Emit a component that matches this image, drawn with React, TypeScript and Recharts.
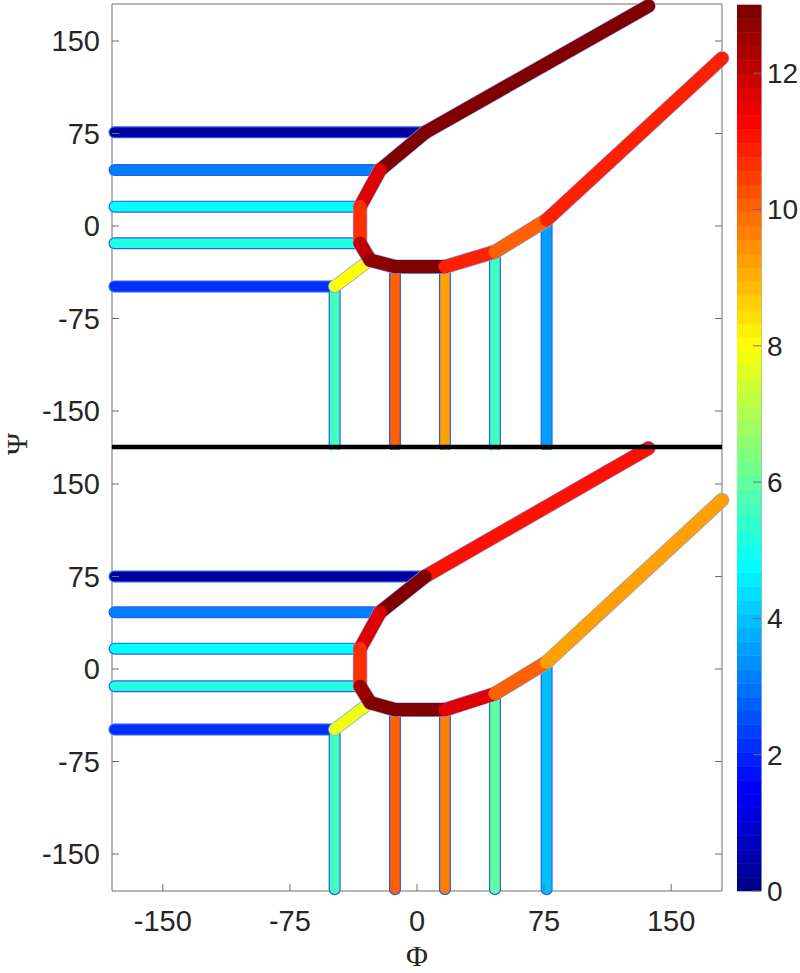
import React from 'react';
import { LineChart, Line, BarChart, Bar, XAxis, YAxis, ReferenceLine, ReferenceArea } from 'recharts';

// ---------- axes / colour scale ----------
const PHI_TICKS = [-150, -75, 0, 75, 150];
const PSI_TICKS = [-150, -75, 0, 75, 150];
const CBAR_TICKS = [0, 2, 4, 6, 8, 10, 12];
const CBAR_MAX = 13;
const CBAR_LEVELS = 64;
const PHI_START = -178.5;
const PSI_BOTTOM = -178.5;

// ---------- top panel ----------
const topCurvePhi = [136.6, 5, -21.8, -33.6, -33.6, -27.7, -13, 16.5, 46, 76.5, 180];
const topCurvePsi = [178.4, 76, 45.4, 15.7, -14, -27.6, -33, -33, -20.9, 4.9, 136];
const topCurveVal = [12.9, 12.9, 11.68, 10.66, 12.08, 12.7, 12.9, 10.87, 10.05, 10.87];
const topRowPsi = [76, 45.4, 15.7, -14, -49];
const topRowEnd = [5, -21.8, -33.6, -33.6, -48.6];
const topRowVal = [0.3, 3.15, 4.77, 5.18, 2.13];
const topColPhi = [-48.6, -13, 16.5, 46, 76.5];
const topColTop = [-49, -33, -33, -20.9, 4.9];
const topColVal = [5.59, 10.05, 9.24, 5.59, 3.55];
const topLinkPhi = [-48.6, -27.7];
const topLinkPsi = [-49, -27.6];
const topLinkVal = 8.0;

// ---------- bottom panel ----------
const botCurvePhi = [136.6, 4.7, -21.8, -33.6, -33.6, -27.7, -13, 16.5, 46, 76.5, 180];
const botCurvePsi = [179, 75, 46, 16.5, -14, -27.2, -33, -33, -20, 5.5, 137];
const botCurveVal = [11.07, 12.9, 11.68, 10.66, 12.49, 12.9, 12.9, 11.68, 10.05, 9.24];
const botRowPsi = [75, 46, 16.5, -14, -49];
const botRowEnd = [4.7, -21.8, -33.6, -33.6, -48.6];
const botRowVal = [0.3, 3.15, 4.77, 5.18, 2.13];
const botColPhi = [-48.6, -13, 16.5, 46, 76.5];
const botColTop = [-49, -33, -33, -20, 5.5];
const botColVal = [5.59, 10.05, 9.65, 5.99, 3.96];
const botLinkPhi = [-48.6, -27.7];
const botLinkPsi = [-49, -27.2];
const botLinkVal = 7.82;

// ---------- layout ----------
const W = 800;
const PLOT_LEFT = 112;
const PLOT_RIGHT_MARGIN = 78;
const PLOT_W = W - PLOT_LEFT - PLOT_RIGHT_MARGIN;
const AX = '#6e6e6e';
const TXT = '#262626';
const SANS = '"Liberation Sans", Arial, Helvetica, sans-serif';
const SERIF = '"Liberation Serif", "Times New Roman", serif';
const FS = 29;

function jetRow(i: number): string {
  let r = 0, g = 0, b = 0;
  if (i <= 8) b = 0.5 + i / 16;
  else if (i <= 24) { b = 1; g = (i - 8) / 16; }
  else if (i <= 40) { g = 1; r = (i - 24) / 16; b = 1 - (i - 24) / 16; }
  else if (i <= 56) { r = 1; g = 1 - (i - 40) / 16; }
  else r = 1 - (i - 56) / 16;
  const h = (c: number) => Math.round(Math.max(0, Math.min(1, c)) * 255).toString(16).padStart(2, '0');
  return '#' + h(r) + h(g) + h(b);
}
function colorOf(v: number): string {
  const i = Math.min(CBAR_LEVELS, Math.max(1, Math.floor((v / CBAR_MAX) * CBAR_LEVELS) + 1));
  return jetRow(i);
}

type Pt = { x: number; y: number };
type Seg = { key: string; pts: Pt[]; v: number };

function buildPanel(
  cPhi: number[], cPsi: number[], cVal: number[],
  rPsi: number[], rEnd: number[], rVal: number[],
  colPhi: number[], colTop: number[], colVal: number[],
  lPhi: number[], lPsi: number[], lVal: number
) {
  const curve: Seg[] = cVal.map((v, i) => ({
    key: 'c' + i,
    pts: [{ x: cPhi[i], y: cPsi[i] }, { x: cPhi[i + 1], y: cPsi[i + 1] }],
    v,
  }));
  const rungs: Seg[] = [];
  rPsi.forEach((p, i) => rungs.push({ key: 'r' + i, pts: [{ x: PHI_START, y: p }, { x: rEnd[i], y: p }], v: rVal[i] }));
  colPhi.forEach((p, i) => rungs.push({ key: 'v' + i, pts: [{ x: p, y: colTop[i] }, { x: p, y: PSI_BOTTOM }], v: colVal[i] }));
  const link: Seg = { key: 'l', pts: [{ x: lPhi[0], y: lPsi[0] }, { x: lPhi[1], y: lPsi[1] }], v: lVal };
  return { curve, rungs, link };
}

const topPanel = buildPanel(topCurvePhi, topCurvePsi, topCurveVal, topRowPsi, topRowEnd, topRowVal,
  topColPhi, topColTop, topColVal, topLinkPhi, topLinkPsi, topLinkVal);
const botPanel = buildPanel(botCurvePhi, botCurvePsi, botCurveVal, botRowPsi, botRowEnd, botRowVal,
  botColPhi, botColTop, botColVal, botLinkPhi, botLinkPsi, botLinkVal);

const cbarKeys = Array.from({ length: CBAR_LEVELS }, (_, i) => 'b' + i);
const cbarRow: Record<string, any> = { name: 'cbar' };
cbarKeys.forEach((k) => { cbarRow[k] = CBAR_MAX / CBAR_LEVELS; });
const cbarData = [cbarRow];

function renderSegs(p: { curve: Seg[]; rungs: Seg[]; link: Seg }) {
  const common = { dataKey: 'y', dot: false, activeDot: false, isAnimationActive: false, type: 'linear' as const, strokeLinecap: 'round' as const, legendType: 'none' as const };
  const out: React.ReactNode[] = [];
  p.rungs.forEach((s) => out.push(<Line key={'ro' + s.key} {...common} data={s.pts} stroke="#2f5cf0" strokeWidth={12} />));
  p.rungs.forEach((s) => out.push(<Line key={'rf' + s.key} {...common} data={s.pts} stroke={colorOf(s.v)} strokeWidth={9.6} />));
  out.push(<Line key="lo" {...common} data={p.link.pts} stroke="#7aa6ff" strokeWidth={13} />);
  out.push(<Line key="lf" {...common} data={p.link.pts} stroke={colorOf(p.link.v)} strokeWidth={11.5} />);
  p.curve.forEach((s) => out.push(<Line key={'co' + s.key} {...common} data={s.pts} stroke="#7aa6ff" strokeWidth={14.5} />));
  p.curve.forEach((s) => out.push(<Line key={'cf' + s.key} {...common} data={s.pts} stroke={colorOf(s.v)} strokeWidth={13.2} />));
  return out;
}

const LeftTick = (props: any) => {
  const { x, y, payload } = props;
  return (
    <g>
      <text x={x - 12} y={y} dy="0.355em" textAnchor="end" fontSize={FS} fontFamily={SANS} fill={TXT}>{payload.value}</text>
      <line x1={x} y1={y} x2={x + 7} y2={y} stroke={AX} strokeWidth={1} />
      <line x1={x + PLOT_W - 7} y1={y} x2={x + PLOT_W} y2={y} stroke={AX} strokeWidth={1} />
    </g>
  );
};
const TopTick = (props: any) => {
  const { x, y } = props;
  return <line x1={x} y1={y} x2={x} y2={y + 7} stroke={AX} strokeWidth={1} />;
};
const BottomTick = (props: any) => {
  const { x, y, payload } = props;
  return (
    <g>
      <line x1={x} y1={y} x2={x} y2={y - 7} stroke={AX} strokeWidth={1} />
      <text x={x} y={y + 30} dy="0.355em" textAnchor="middle" fontSize={FS} fontFamily={SANS} fill={TXT}>{payload.value}</text>
    </g>
  );
};
const CbarTick = (props: any) => {
  const { x, y, payload } = props;
  return (
    <g>
      <line x1={x - 8} y1={y} x2={x} y2={y} stroke={AX} strokeWidth={1} />
      <text x={x + 6} y={y} dy="0.355em" textAnchor="start" fontSize={28} fontFamily={SANS} fill={TXT}>{payload.value}</text>
    </g>
  );
};

export default function App() {
  return (
    <div style={{ position: 'absolute', left: 0, top: 0, width: W, height: 973, background: '#fff' }}>
      {/* top panel */}
      <div style={{ position: 'absolute', left: 0, top: 0 }}>
        <LineChart width={W} height={450} margin={{ top: 4, right: PLOT_RIGHT_MARGIN, left: 0, bottom: 2 }}>
          <XAxis xAxisId={0} type="number" dataKey="x" domain={[-180, 180]} ticks={PHI_TICKS} orientation="top" height={0}
            tickSize={0} tickMargin={0} axisLine={false} tickLine={false} interval={0} tick={(p: any) => <TopTick {...p} />} />
          <YAxis yAxisId={0} type="number" domain={[-180, 180]} ticks={PSI_TICKS} width={PLOT_LEFT}
            tickSize={0} tickMargin={0} axisLine={false} tickLine={false} interval={0} tick={(p: any) => <LeftTick {...p} />} />
          {renderSegs(topPanel)}
          <ReferenceArea x1={-180} x2={180} y1={-180} y2={180} fill="none" stroke={AX} strokeWidth={1} ifOverflow="visible" />
        </LineChart>
      </div>
      {/* bottom panel */}
      <div style={{ position: 'absolute', left: 0, top: 420 }}>
        <LineChart width={W} height={553} margin={{ top: 27, right: PLOT_RIGHT_MARGIN, left: 0, bottom: 0 }}>
          <XAxis xAxisId={0} type="number" dataKey="x" domain={[-180, 180]} ticks={PHI_TICKS} orientation="bottom" height={82}
            tickSize={0} tickMargin={0} axisLine={false} tickLine={false} interval={0} tick={(p: any) => <BottomTick {...p} />} />
          <YAxis yAxisId={0} type="number" domain={[-180, 180]} ticks={PSI_TICKS} width={PLOT_LEFT}
            tickSize={0} tickMargin={0} axisLine={false} tickLine={false} interval={0} tick={(p: any) => <LeftTick {...p} />} />
          {renderSegs(botPanel)}
          <ReferenceArea x1={-180} x2={180} y1={-180} y2={180} fill="none" stroke={AX} strokeWidth={1} ifOverflow="visible" />
          <ReferenceLine y={180} stroke="#000" strokeWidth={4.5} ifOverflow="visible" />
        </LineChart>
      </div>
      {/* colour bar */}
      <div style={{ position: 'absolute', left: 737, top: 0 }}>
        <BarChart width={63} height={920} data={cbarData} margin={{ top: 5, right: 0, left: 0, bottom: 29 }}
          barCategoryGap={0} barGap={0}>
          <XAxis type="category" dataKey="name" hide />
          <YAxis type="number" orientation="right" domain={[0, CBAR_MAX]} ticks={CBAR_TICKS} width={39} allowDataOverflow
            tickSize={0} tickMargin={0} axisLine={false} tickLine={false} interval={0} tick={(p: any) => <CbarTick {...p} />} />
          {cbarKeys.map((k, i) => (
            <Bar key={k} dataKey={k} stackId="cb" fill={jetRow(i + 1)} stroke={jetRow(i + 1)} strokeWidth={0.6}
              isAnimationActive={false} legendType="none" />
          ))}
          <ReferenceArea y1={0} y2={CBAR_MAX} fill="none" stroke={AX} strokeWidth={1} ifOverflow="visible" />
        </BarChart>
      </div>
      {/* axis titles */}
      <svg width={W} height={973} style={{ position: 'absolute', left: 0, top: 0, pointerEvents: 'none' }}>
        <text x={27} y={444} transform="rotate(-90 27 444)" textAnchor="middle" fontSize={30} fontFamily={SERIF} fill={TXT}>Ψ</text>
        <text x={417} y={966} textAnchor="middle" fontSize={30} fontFamily={SERIF} fill={TXT}>Φ</text>
      </svg>
    </div>
  );
}
